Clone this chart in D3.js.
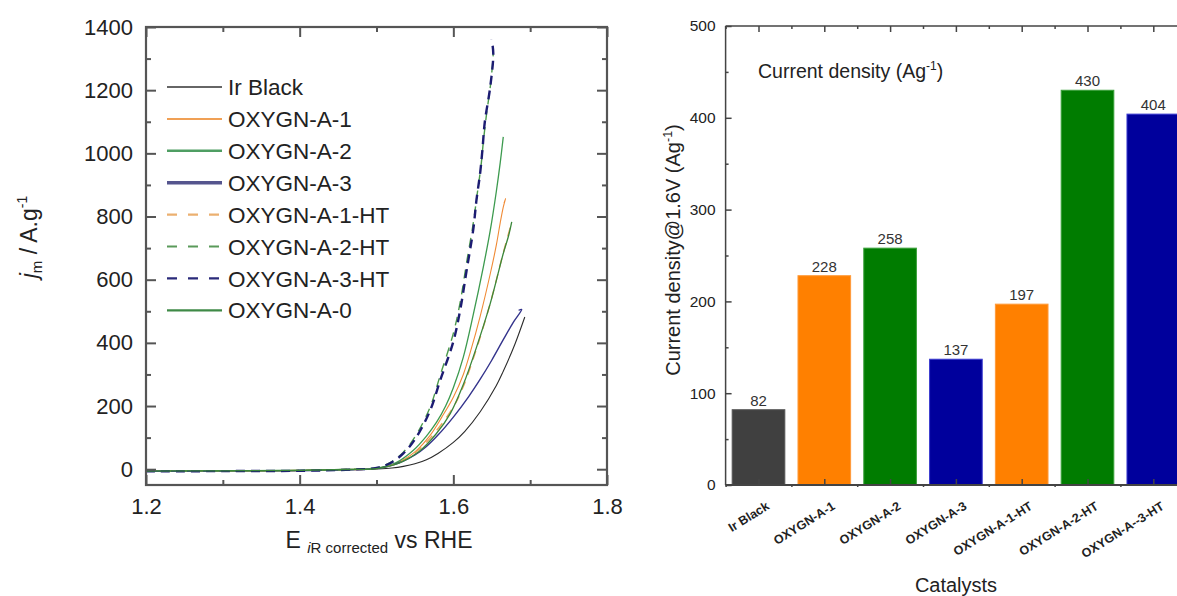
<!DOCTYPE html>
<html>
<head>
<meta charset="utf-8">
<script src="https://cdn.jsdelivr.net/npm/d3@7"></script>
<style>
  html, body { margin: 0; padding: 0; background: #fff; }
  svg { display: block; font-family: "Liberation Sans", Arial, Helvetica, sans-serif; }
</style>
</head>
<body>
<svg id="fig" width="1177" height="596"></svg>
<script>
// ---------- Linear sweep voltammetry: [E (V vs RHE, iR corrected), j_m (A/g)] ----------
const irBlack = [[1.20,-6],[1.30,-5],[1.40,-4],[1.46,-2],[1.50,1],[1.52,4],[1.535,9],[1.55,17],[1.565,30],[1.58,50],[1.60,85],[1.615,120],[1.635,182],[1.656,265],[1.665,310],[1.68,395],[1.693,482]];
const oxygnA1 = [[1.20,-6],[1.30,-5],[1.40,-4],[1.46,-1],[1.50,3],[1.525,18],[1.55,55],[1.57,108],[1.585,165],[1.60,228],[1.613,300],[1.622,370],[1.635,485],[1.648,618],[1.656,710],[1.661,780],[1.665,830],[1.668,857],[1.666,842]];
const oxygnA2 = [[1.20,-6],[1.30,-5],[1.40,-4],[1.46,-1],[1.50,3],[1.525,20],[1.548,60],[1.565,105],[1.578,148],[1.59,200],[1.60,258],[1.613,355],[1.626,490],[1.639,640],[1.648,755],[1.656,880],[1.661,970],[1.665,1052]];
const oxygnA3 = [[1.20,-7],[1.30,-6],[1.40,-5],[1.46,-2],[1.50,2],[1.52,12],[1.535,26],[1.55,45],[1.565,72],[1.58,108],[1.60,165],[1.62,230],[1.635,285],[1.65,345],[1.665,410],[1.678,465],[1.689,506],[1.685,503]];
const oxygnA1HT = [[1.20,-6],[1.30,-5],[1.40,-4],[1.46,-1],[1.50,2],[1.53,22],[1.555,62],[1.578,122],[1.60,197],[1.613,262],[1.63,380],[1.648,525],[1.665,685],[1.674,765]];
const oxygnA2HT = [[1.20,-6],[1.30,-5],[1.40,-4],[1.47,0],[1.50,5],[1.517,20],[1.535,54],[1.552,110],[1.57,198],[1.583,298],[1.60,430],[1.609,530],[1.617,650],[1.626,780],[1.631,870],[1.636,960],[1.639,1035],[1.643,1120],[1.649,1230],[1.652,1330],[1.651,1355]];
const oxygnA3HT = [[1.20,-7],[1.30,-6],[1.40,-5],[1.47,-1],[1.50,4],[1.517,18],[1.535,50],[1.552,102],[1.57,187],[1.583,282],[1.60,404],[1.609,505],[1.617,625],[1.626,760],[1.630,850],[1.635,940],[1.638,1015],[1.641,1100],[1.648,1210],[1.652,1315],[1.650,1360]];
const oxygnA0 = [[1.20,-6],[1.30,-5],[1.40,-4],[1.46,-1],[1.50,2],[1.53,20],[1.555,55],[1.578,113],[1.596,176],[1.613,268],[1.63,385],[1.648,524],[1.665,683],[1.672,740],[1.676,783]];

const seriesNames = ["Ir Black","OXYGN-A-1","OXYGN-A-2","OXYGN-A-3","OXYGN-A-1-HT","OXYGN-A-2-HT","OXYGN-A-3-HT","OXYGN-A-0"];
const seriesData  = [irBlack, oxygnA1, oxygnA2, oxygnA3, oxygnA1HT, oxygnA2HT, oxygnA3HT, oxygnA0];

const potentialTicks = [1.2, 1.4, 1.6, 1.8];
const potentialMinor = [1.3, 1.5, 1.7];
const currentTicks = [0, 200, 400, 600, 800, 1000, 1200, 1400];
const currentMinor = [100, 300, 500, 700, 900, 1100, 1300];

// ---------- Current density at 1.6 V ----------
const catalysts = ["Ir Black","OXYGN-A-1","OXYGN-A-2","OXYGN-A-3","OXYGN-A-1-HT","OXYGN-A-2-HT","OXYGN-A--3-HT"];
const currentAt16V = [82, 228, 258, 137, 197, 430, 404];
const densityTicks = [0, 100, 200, 300, 400, 500];
const densityMinor = [50, 150, 250, 350, 450];

// ---------- styles ----------
const lineStyles = [
  { color: "#2b2b2b", width: 1.1, dash: null },
  { color: "#f08a35", width: 1.1, dash: null },
  { color: "#3c9a4e", width: 1.3, dash: null },
  { color: "#34348c", width: 1.4, dash: null },
  { color: "#e9a45c", width: 1.4, dash: "9,7" },
  { color: "#4b9a4b", width: 1.4, dash: "9,7" },
  { color: "#1c1c72", width: 2.4, dash: "9,6" },
  { color: "#3a873a", width: 1.3, dash: null }
];
const legendStyles = [
  { color: "#333", width: 1.5, dash: null },
  { color: "#f0a055", width: 2, dash: null },
  { color: "#4f9e63", width: 2.6, dash: null },
  { color: "#55558e", width: 3.4, dash: null },
  { color: "#ebb070", width: 2.2, dash: "10,11" },
  { color: "#5a9a5a", width: 2.2, dash: "10,11" },
  { color: "#2a2a7a", width: 2.2, dash: "10,11" },
  { color: "#3f8a47", width: 2.2, dash: null }
];
const barFill   = ["#404040", "#ff8000", "#007c00", "#00009c", "#ff8000", "#007c00", "#00009c"];
const barStroke = ["#555555", "#ff9a3a", "#3aa03a", "#3a3ad0", "#ff9a3a", "#3aa03a", "#3a3ad0"];

const svg = d3.select("#fig");
svg.append("rect").attr("width", 1177).attr("height", 596).attr("fill", "#fff");

const axisColor = "#555";
const textColor = "#222";

// ================= Left panel: LSV curves =================
const L = { left: 146, right: 607, top: 27, bottom: 485 };
const x = d3.scaleLinear().domain([1.2, 1.8]).range([L.left, L.right]);
const y = d3.scaleLinear().domain([-50, 1400]).range([L.bottom, L.top]);

svg.append("clipPath").attr("id", "lsvClip")
  .append("rect").attr("x", L.left).attr("y", L.top)
  .attr("width", L.right - L.left).attr("height", L.bottom - L.top);

const line = d3.line().x(d => x(d[0])).y(d => y(d[1])).curve(d3.curveCatmullRom.alpha(0.5));

const curves = svg.append("g").attr("clip-path", "url(#lsvClip)");
seriesData.forEach((data, i) => {
  const s = lineStyles[i];
  curves.append("path")
    .datum(data)
    .attr("d", line)
    .attr("fill", "none")
    .attr("stroke", s.color)
    .attr("stroke-width", s.width)
    .attr("stroke-dasharray", s.dash)
    .attr("stroke-linejoin", "round");
});

function styleAxis(g, color) {
  g.select(".domain").remove();
  g.selectAll(".tick line").attr("stroke", color).attr("stroke-width", 2);
  g.selectAll(".tick text").attr("fill", textColor);
}

// bottom axis with labels
const gxb = svg.append("g").attr("transform", `translate(0,${L.bottom})`)
  .call(d3.axisBottom(x).tickValues(potentialTicks).tickFormat(d3.format(".1f"))
    .tickSizeInner(-10).tickSizeOuter(0).tickPadding(13));
styleAxis(gxb, axisColor);
gxb.selectAll(".tick text").attr("font-size", 22).attr("font-family", "Liberation Sans, Arial, sans-serif");
svg.append("g").attr("transform", `translate(0,${L.bottom})`)
  .call(d3.axisBottom(x).tickValues(potentialMinor).tickFormat("").tickSizeInner(-5).tickSizeOuter(0))
  .call(g => styleAxis(g, axisColor));
// top axis
svg.append("g").attr("transform", `translate(0,${L.top})`)
  .call(d3.axisTop(x).tickValues(potentialTicks).tickFormat("").tickSizeInner(-10).tickSizeOuter(0))
  .call(g => styleAxis(g, axisColor));
svg.append("g").attr("transform", `translate(0,${L.top})`)
  .call(d3.axisTop(x).tickValues(potentialMinor).tickFormat("").tickSizeInner(-5).tickSizeOuter(0))
  .call(g => styleAxis(g, axisColor));
// left axis with labels
const gyl = svg.append("g").attr("transform", `translate(${L.left},0)`)
  .call(d3.axisLeft(y).tickValues(currentTicks).tickFormat(d3.format("d"))
    .tickSizeInner(-10).tickSizeOuter(0).tickPadding(13));
styleAxis(gyl, axisColor);
gyl.selectAll(".tick text").attr("font-size", 22).attr("font-family", "Liberation Sans, Arial, sans-serif");
svg.append("g").attr("transform", `translate(${L.left},0)`)
  .call(d3.axisLeft(y).tickValues(currentMinor).tickFormat("").tickSizeInner(-5).tickSizeOuter(0))
  .call(g => styleAxis(g, axisColor));
// right axis
svg.append("g").attr("transform", `translate(${L.right},0)`)
  .call(d3.axisRight(y).tickValues(currentTicks).tickFormat("").tickSizeInner(-10).tickSizeOuter(0))
  .call(g => styleAxis(g, axisColor));
svg.append("g").attr("transform", `translate(${L.right},0)`)
  .call(d3.axisRight(y).tickValues(currentMinor).tickFormat("").tickSizeInner(-5).tickSizeOuter(0))
  .call(g => styleAxis(g, axisColor));

// frame
svg.append("rect")
  .attr("x", L.left).attr("y", L.top)
  .attr("width", L.right - L.left).attr("height", L.bottom - L.top)
  .attr("fill", "none").attr("stroke", axisColor).attr("stroke-width", 2.2);

// legend
const legend = svg.append("g");
seriesNames.forEach((name, i) => {
  const ly = 87 + i * 31.9;
  const s = legendStyles[i];
  legend.append("line")
    .attr("x1", 167).attr("x2", 222).attr("y1", ly).attr("y2", ly)
    .attr("stroke", s.color).attr("stroke-width", s.width)
    .attr("stroke-dasharray", s.dash);
  legend.append("text")
    .attr("x", 228).attr("y", ly).attr("dy", "0.36em")
    .attr("font-size", 22.5).attr("fill", textColor)
    .text(name);
});

// x title: E iR corrected vs RHE
const xt = svg.append("text")
  .attr("x", 379).attr("y", 548).attr("text-anchor", "middle")
  .attr("font-size", 23).attr("fill", textColor);
xt.append("tspan").text("E ");
xt.append("tspan").attr("font-size", 15).attr("dy", 5).attr("font-style", "italic").text("i");
xt.append("tspan").attr("font-size", 15).text("R corrected");
xt.append("tspan").attr("dy", -5).text(" vs RHE");

// y title: j_m / A.g^-1
const yt = svg.append("text")
  .attr("transform", "translate(37,237) rotate(-90)")
  .attr("text-anchor", "middle")
  .attr("font-size", 23).attr("fill", textColor);
yt.append("tspan").attr("font-style", "italic").text("j");
yt.append("tspan").attr("font-size", 15).attr("dy", 5).text("m");
yt.append("tspan").attr("dy", -5).text(" / A.g");
yt.append("tspan").attr("font-size", 14).attr("dy", -10).text("-1");

// ================= Right panel: bar chart =================
const R = { left: 725.6, top: 26, bottom: 485 };
const band = 65.8;
const xb = d3.scaleBand().domain(catalysts)
  .range([R.left, R.left + band * catalysts.length])
  .paddingInner(0.2).paddingOuter(0.1);
const yb = d3.scaleLinear().domain([0, 500]).range([R.bottom, R.top]);
const bandRight = R.left + band * catalysts.length;

svg.append("g").selectAll("rect")
  .data(currentAt16V)
  .join("rect")
  .attr("x", (d, i) => xb(catalysts[i]))
  .attr("y", d => yb(d))
  .attr("width", xb.bandwidth())
  .attr("height", d => yb(0) - yb(d))
  .attr("fill", (d, i) => barFill[i])
  .attr("stroke", (d, i) => barStroke[i])
  .attr("stroke-width", 1);

svg.append("g").selectAll("text")
  .data(currentAt16V)
  .join("text")
  .attr("x", (d, i) => xb(catalysts[i]) + xb.bandwidth() / 2)
  .attr("y", d => yb(d) - 4)
  .attr("text-anchor", "middle")
  .attr("font-size", 15).attr("fill", "#333")
  .text(d => d);

const centers = catalysts.map(c => xb(c) + xb.bandwidth() / 2);
const bounds = d3.range(catalysts.length + 1).map(i => R.left + i * band);
const xCenter = d3.scaleLinear().domain([0, 1]).range([0, 1]);

function styleBarAxis(g) {
  g.select(".domain").remove();
  g.selectAll(".tick line").attr("stroke", "#444").attr("stroke-width", 1.5);
  g.selectAll(".tick text").attr("fill", textColor);
}

// left axis
const gyb = svg.append("g").attr("transform", `translate(${R.left},0)`)
  .call(d3.axisLeft(yb).tickValues(densityTicks).tickFormat(d3.format("d"))
    .tickSizeInner(-6).tickSizeOuter(0).tickPadding(10));
styleBarAxis(gyb);
gyb.selectAll(".tick text").attr("font-size", 15.5);
svg.append("g").attr("transform", `translate(${R.left},0)`)
  .call(d3.axisLeft(yb).tickValues(densityMinor).tickFormat("").tickSizeInner(-3).tickSizeOuter(0))
  .call(styleBarAxis);

// top and bottom ticks at bar centres and band boundaries
svg.append("g").attr("transform", `translate(0,${R.top})`)
  .call(d3.axisTop(xCenter).tickValues(centers).tickFormat("").tickSizeInner(-6).tickSizeOuter(0))
  .call(styleBarAxis);
svg.append("g").attr("transform", `translate(0,${R.top})`)
  .call(d3.axisTop(xCenter).tickValues(bounds).tickFormat("").tickSizeInner(-3).tickSizeOuter(0))
  .call(styleBarAxis);
svg.append("g").attr("transform", `translate(0,${R.bottom})`)
  .call(d3.axisBottom(xCenter).tickValues(centers).tickFormat("").tickSizeInner(-6).tickSizeOuter(0))
  .call(styleBarAxis);
svg.append("g").attr("transform", `translate(0,${R.bottom})`)
  .call(d3.axisBottom(xCenter).tickValues(bounds).tickFormat("").tickSizeInner(2).tickSizeOuter(0))
  .call(styleBarAxis);

// axis lines
svg.append("line").attr("x1", R.left).attr("x2", R.left).attr("y1", R.top).attr("y2", R.bottom)
  .attr("stroke", "#444").attr("stroke-width", 1.5);
svg.append("line").attr("x1", R.left).attr("x2", bandRight).attr("y1", R.bottom).attr("y2", R.bottom)
  .attr("stroke", "#444").attr("stroke-width", 1.8);
svg.append("line").attr("x1", R.left).attr("x2", bandRight).attr("y1", R.top).attr("y2", R.top)
  .attr("stroke", "#444").attr("stroke-width", 1.5);

// category labels
svg.append("g").selectAll("text")
  .data(catalysts)
  .join("text")
  .attr("transform", (d, i) => `translate(${centers[i] + 7},${R.bottom + 16}) rotate(-32)`)
  .attr("text-anchor", "end")
  .attr("dy", "0.7em")
  .attr("font-size", 12.5).attr("font-weight", "bold").attr("fill", textColor)
  .text(d => d);

// in-plot caption
const cap = svg.append("text").attr("x", 758).attr("y", 78)
  .attr("font-size", 19.5).attr("fill", textColor);
cap.append("tspan").text("Current density (Ag");
cap.append("tspan").attr("font-size", 12).attr("dy", -8).text("-1");
cap.append("tspan").attr("dy", 8).text(")");

// axis titles
const ybt = svg.append("text")
  .attr("transform", "translate(680,250) rotate(-90)")
  .attr("text-anchor", "middle").attr("font-size", 20).attr("fill", textColor);
ybt.append("tspan").text("Current density@1.6V (Ag");
ybt.append("tspan").attr("font-size", 12.5).attr("dy", -8).text("-1");
ybt.append("tspan").attr("dy", 8).text(")");

svg.append("text").attr("x", 956).attr("y", 592)
  .attr("text-anchor", "middle").attr("font-size", 20).attr("fill", textColor)
  .text("Catalysts");
</script>
</body>
</html>
